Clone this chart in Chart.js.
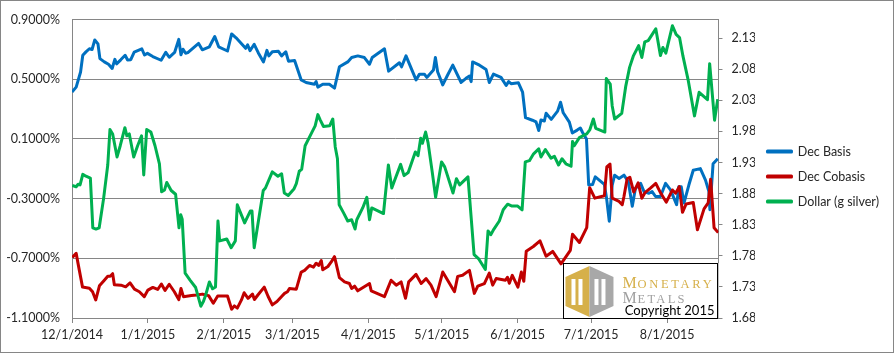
<!DOCTYPE html>
<html lang="en">
<head>
<meta charset="UTF-8">
<title>Dec Basis, Dec Cobasis and Dollar (g silver)</title>
<script src="https://cdn.jsdelivr.net/npm/chart.js"></script>
<style>
    body { margin: 0; background: #fff; }
    canvas { display: block; }
</style>
</head>
<body>
<canvas id="grafico" width="894" height="353"></canvas>
<script>
// days are counted from 12/1/2014
var monthDays = [0, 31, 62, 90, 121, 151, 182, 212, 243];
var monthLabels = ['12/1/2014', '1/1/2015', '2/1/2015', '3/1/2015', '4/1/2015', '5/1/2015', '6/1/2015', '7/1/2015', '8/1/2015'];
var leftTicks = [-1.1, -0.7, -0.3, 0.1, 0.5, 0.9];
var rightTicks = [1.68, 1.73, 1.78, 1.83, 1.88, 1.93, 1.98, 2.03, 2.08, 2.13];

var basisDays = [0,1.7,3.5,4.4,5.7,7.1,8.2,9.3,10.6,11.4,13.2,14.9,16.4,17.5,18.2,19.9,21.7,22.7,24.0,25.4,28.5,29.6,30.8,33.0,36.4,38.3,39.7,41.9,43.6,44.5,45.3,46.4,47.3,51.7,53.2,56.1,58.3,59.9,63.5,65.2,67.0,70.9,71.7,72.7,74.4,76.1,78.2,79.6,80.4,81.8,84.3,85.6,87.3,88.4,90.9,93.6,95.6,99.0,99.7,100.4,102.4,105.1,107.2,109.2,112.6,114.2,116.7,119.4,121.5,122.6,127.6,129.3,133.7,134.6,136.4,140.5,141.9,143.9,144.9,147.6,148.4,149.3,151.4,153.4,155.5,158.9,160.9,162.3,163.0,163.6,166.4,169.1,170.4,172.1,175.2,177.3,178.3,179.3,182.3,184.0,185.2,188.0,189.5,190.6,191.5,192.9,193.6,195.7,198.3,199.5,200.6,203.1,204.3,206.3,207.6,208.5,210.1,211.0,212.6,213.7,215.3,217.4,218.3,219.4,220.6,221.6,223.4,225.4,227.2,228.8,230.1,232.2,233.6,235.6,236.9,238.3,240.3,242.4,244.4,245.8,246.9,247.8,248.8,249.9,251.9,253.7,256.6,258.7,260.1,260.5,261.8,263.7];
var basisValues = [0.414,0.447,0.548,0.660,0.683,0.704,0.699,0.763,0.737,0.638,0.616,0.600,0.572,0.633,0.603,0.630,0.660,0.629,0.631,0.682,0.704,0.662,0.673,0.652,0.627,0.680,0.647,0.679,0.767,0.664,0.701,0.674,0.678,0.740,0.697,0.717,0.786,0.717,0.689,0.803,0.777,0.707,0.730,0.691,0.734,0.676,0.616,0.693,0.656,0.684,0.687,0.656,0.684,0.621,0.625,0.495,0.478,0.466,0.484,0.447,0.466,0.466,0.440,0.583,0.616,0.645,0.656,0.645,0.600,0.645,0.704,0.554,0.610,0.583,0.656,0.495,0.534,0.534,0.512,0.561,0.645,0.550,0.462,0.528,0.594,0.478,0.506,0.521,0.484,0.616,0.594,0.565,0.478,0.534,0.512,0.458,0.484,0.470,0.476,0.414,0.242,0.225,0.214,0.156,0.227,0.220,0.272,0.231,0.286,0.346,0.275,0.212,0.140,0.159,0.173,0.143,0.099,-0.209,-0.205,-0.154,-0.176,-0.205,-0.297,-0.451,-0.209,-0.143,-0.165,-0.143,-0.187,-0.352,-0.231,-0.198,-0.253,-0.264,-0.253,-0.286,-0.286,-0.198,-0.242,-0.297,-0.341,-0.220,-0.220,-0.330,-0.209,-0.110,-0.099,-0.176,-0.253,-0.374,-0.066,-0.033];

var cobasisDays = [0.1,1.7,3.0,4.3,7.1,8.4,9.7,11.2,13.2,14.6,15.6,16.6,17.3,20.0,21.9,23.7,25.5,27.5,29.5,31.0,33.0,35.0,36.5,38.0,39.7,41.8,43.6,44.5,45.5,48.8,50.8,53.3,54.6,55.8,57.7,59.5,63.5,65.2,66.3,67.5,69.2,70.3,71.9,73.7,74.5,75.9,78.5,80.1,81.8,83.7,85.6,86.8,88.0,88.8,91.6,93.6,95.0,97.0,98.6,99.7,100.7,101.8,102.4,104.5,105.8,107.2,109.2,111.3,113.3,114.2,115.4,116.7,121.5,122.2,127.6,130.3,132.4,134.4,136.2,137.5,140.5,142.6,144.6,146.6,148.7,151.4,153.4,156.2,157.5,159.5,162.3,164.3,165.7,168.4,170.4,171.8,173.2,177.0,177.8,178.6,179.8,182.1,183.5,184.5,185.5,188.4,191.1,193.6,196.3,199.7,203.5,204.4,207.2,210.2,211.4,213.5,217.4,218.4,219.7,220.6,223.4,224.7,225.4,226.7,227.8,229.4,231.2,232.7,234.1,236.1,238.4,240.4,242.7,245.2,246.5,248.0,249.3,250.8,253.7,255.4,258.1,259.8,260.8,262.2,263.9];
var cobasisValues = [-0.694,-0.667,-0.781,-0.893,-0.900,-0.924,-0.979,-0.884,-0.847,-0.820,-0.821,-0.803,-0.877,-0.880,-0.891,-0.865,-0.907,-0.924,-0.957,-0.913,-0.895,-0.909,-0.872,-0.915,-0.874,-0.924,-0.977,-0.902,-0.957,-0.950,-0.946,-0.940,-0.946,-0.950,-1.001,-0.953,-0.953,-1.041,-1.019,-1.034,-0.979,-0.931,-0.968,-0.940,-0.976,-0.946,-0.893,-0.956,-1.012,-0.990,-0.956,-0.935,-0.924,-0.902,-0.907,-0.792,-0.781,-0.748,-0.759,-0.733,-0.748,-0.715,-0.777,-0.755,-0.726,-0.689,-0.829,-0.858,-0.869,-0.902,-0.887,-0.918,-0.869,-0.918,-0.957,-0.847,-0.880,-0.858,-0.968,-0.858,-0.808,-0.869,-0.836,-0.880,-0.957,-0.792,-0.847,-0.924,-0.821,-0.814,-0.781,-0.935,-0.887,-0.869,-0.799,-0.880,-0.836,-0.847,-0.827,-0.867,-0.814,-0.893,-0.792,-0.854,-0.652,-0.621,-0.583,-0.686,-0.654,-0.737,-0.647,-0.539,-0.594,-0.494,-0.227,-0.297,-0.281,-0.088,-0.068,-0.297,-0.319,-0.341,-0.286,-0.167,-0.157,-0.256,-0.194,-0.297,-0.258,-0.231,-0.198,-0.263,-0.324,-0.242,-0.264,-0.220,-0.392,-0.336,-0.326,-0.509,-0.369,-0.329,-0.171,-0.495,-0.528];

var dollarDays = [0.1,1.7,2.5,3.3,4.4,5.7,7.5,8.5,9.8,11.1,12.9,14.6,15.5,16.6,18.4,19.7,21.6,22.4,23.4,25.2,26.8,28.4,29.3,30.5,32.2,33.9,35.7,36.6,37.8,38.7,40.5,42.3,43.7,44.4,45.0,46.2,48.2,50.5,52.6,53.7,54.6,56.1,57.4,58.6,59.6,60.3,63.2,65.0,66.7,67.5,70.5,72.8,73.5,74.4,78.1,79.0,81.8,84.1,85.6,86.7,88.3,90.7,91.6,92.8,93.8,95.2,97.9,99.3,100.4,101.3,102.7,105.2,106.5,107.5,108.4,109.1,110.9,112.6,114.2,115.6,116.3,118.7,120.4,121.5,122.4,127.2,129.2,130.6,131.8,134.2,135.6,137.3,140.2,141.3,142.4,143.1,144.4,145.4,147.1,148.5,150.9,152.2,155.6,157.0,158.3,161.7,164.2,166.1,168.8,169.9,171.0,172.3,174.5,176.1,177.9,179.7,182.0,183.8,185.1,186.8,188.5,190.6,191.5,193.3,195.6,197.0,198.7,200.1,201.7,203.8,204.4,205.1,207.2,210.2,211.5,212.9,213.9,217.6,218.2,219.8,220.6,221.6,224.5,226.1,227.7,229.2,231.4,232.7,233.9,235.3,238.4,240.3,241.3,242.5,245.2,246.7,248.1,249.5,251.6,254.2,256.1,259.5,260.4,262.4,263.7];
var dollarValues = [1.893,1.891,1.895,1.894,1.911,1.908,1.905,1.825,1.823,1.825,1.872,1.926,1.983,1.976,1.939,1.957,1.986,1.973,1.976,1.939,1.957,1.973,1.910,1.983,1.979,1.957,1.928,1.883,1.886,1.898,1.885,1.879,1.825,1.846,1.839,1.752,1.741,1.729,1.699,1.707,1.717,1.738,1.727,1.730,1.836,1.804,1.807,1.793,1.804,1.862,1.833,1.852,1.852,1.793,1.885,1.889,1.915,1.908,1.912,1.881,1.877,1.888,1.896,1.916,1.919,1.957,1.978,1.989,2.007,1.999,1.988,1.989,2.000,1.955,1.936,1.862,1.849,1.836,1.838,1.823,1.838,1.857,1.874,1.838,1.857,1.848,1.926,1.889,1.902,1.927,1.909,1.914,1.947,1.941,1.969,1.961,1.979,1.962,1.915,1.874,1.931,1.923,1.881,1.904,1.894,1.907,1.782,1.775,1.758,1.820,1.814,1.823,1.836,1.854,1.863,1.860,1.860,1.854,1.931,1.933,1.944,1.952,1.939,1.951,1.937,1.940,1.926,1.936,1.928,1.924,1.964,1.957,1.970,1.976,1.983,2.000,1.985,1.979,2.065,2.056,2.021,2.000,2.009,2.052,2.083,2.101,2.118,2.099,2.124,2.126,2.145,2.102,2.115,2.106,2.150,2.136,2.131,2.101,2.063,2.005,2.043,2.031,2.089,1.998,2.032];

var gris = '#868686';
var texto = '#262626';
var fuente = { family: 'Lato', size: 12.5 };
var oro = '#D6B04A';

function puntos(dias, valores) {
    return dias.map(function (d, i) { return { x: d, y: valores[i] }; });
}

function fijarTicks(lista) {
    return function (escala) {
        escala.ticks = lista.map(function (v) { return { value: v }; });
    };
}

// box with the logo, drawn over the bottom right corner of the plot
function dibujarLogo(c, area) {
    var w = 155, h = 55;
    var x = area.right - w, y = area.bottom - h;
    c.save();
    c.fillStyle = '#fff';
    c.fillRect(x, y, w, h);
    c.strokeStyle = '#000';
    c.lineWidth = 1;
    c.strokeRect(Math.round(x) + 0.5, Math.round(y) + 0.5, w - 1, h);

    // icon
    var ix = x + 2, iy = y + 2;
    c.fillStyle = oro;
    c.beginPath();
    c.moveTo(ix, iy + 12); c.lineTo(ix + 24, iy + 1); c.lineTo(ix + 24, iy + 52); c.lineTo(ix, iy + 41);
    c.closePath(); c.fill();
    c.fillStyle = '#A8A8A8';
    c.beginPath();
    c.moveTo(ix + 24, iy + 1); c.lineTo(ix + 48, iy + 12); c.lineTo(ix + 48, iy + 41); c.lineTo(ix + 24, iy + 52);
    c.closePath(); c.fill();
    c.fillStyle = '#fff';
    [6, 13, 29, 36].forEach(function (dx) {
        c.fillRect(ix + dx, iy + 14, 4, 26);
    });

    // text
    c.textBaseline = 'alphabetic';
    c.fillStyle = oro;
    c.font = '16px "Liberation Serif"';
    c.fillText('M', x + 59, y + 25);
    c.font = '12.5px "Liberation Serif"';
    c.letterSpacing = '2.7px';
    c.fillText('ONETARY', x + 74, y + 25);
    c.fillStyle = '#A0A0A0';
    c.font = '16px "Liberation Serif"';
    c.letterSpacing = '0px';
    c.fillText('M', x + 59, y + 40);
    c.font = '12.5px "Liberation Serif"';
    c.letterSpacing = '2.3px';
    c.fillText('ETALS', x + 74, y + 40);
    c.letterSpacing = '0px';
    c.fillStyle = '#000';
    c.font = '13px Lato';
    c.textAlign = 'right';
    c.fillText('Copyright 2015', x + w - 4, y + 52);
    c.restore();
}

var marco = {
    id: 'marco',
    afterDraw: function (chart) {
        var c = chart.ctx;
        dibujarLogo(c, chart.chartArea);
        c.save();
        c.strokeStyle = gris;
        c.lineWidth = 1;
        c.strokeRect(0.5, 0.5, chart.width - 1, chart.height - 1);
        c.restore();
    }
};

var ctx = document.getElementById('grafico').getContext('2d');
var grafico = new Chart(ctx, {
    type: 'line',
    data: {
        datasets: [{
            label: 'Dec Basis',
            data: puntos(basisDays, basisValues),
            borderColor: '#0070C0',
            backgroundColor: '#0070C0',
            yAxisID: 'y',
            order: 3
        }, {
            label: 'Dec Cobasis',
            data: puntos(cobasisDays, cobasisValues),
            borderColor: '#C00000',
            backgroundColor: '#C00000',
            yAxisID: 'y',
            order: 2
        }, {
            label: 'Dollar (g silver)',
            data: puntos(dollarDays, dollarValues),
            borderColor: '#00B050',
            backgroundColor: '#00B050',
            yAxisID: 'y1',
            order: 1
        }]
    },
    options: {
        responsive: false,
        animation: false,
        devicePixelRatio: 1,
        layout: { padding: { left: 0, right: 5, top: 0, bottom: 0 } },
        elements: {
            point: { radius: 0 },
            line: { borderWidth: 3, tension: 0, borderJoinStyle: 'round', fill: false }
        },
        scales: {
            x: {
                type: 'linear',
                min: 0,
                max: 264,
                afterBuildTicks: fijarTicks(monthDays),
                afterFit: function (s) { s.height = 35; },
                ticks: {
                    autoSkip: false,
                    maxRotation: 0,
                    padding: 4,
                    color: texto,
                    font: fuente,
                    callback: function (v, i) { return monthLabels[i]; }
                },
                grid: { drawOnChartArea: false, drawTicks: true, tickLength: 5, color: gris },
                border: { color: gris }
            },
            y: {
                position: 'left',
                min: -1.1,
                max: 0.9,
                afterBuildTicks: fijarTicks(leftTicks),
                afterFit: function (s) { s.width = 72; },
                ticks: {
                    padding: 12,
                    color: texto,
                    font: fuente,
                    callback: function (v) { return v.toFixed(4) + '%'; }
                },
                grid: { color: gris, drawTicks: false },
                border: { color: gris }
            },
            y1: {
                position: 'right',
                min: 1.68,
                max: 2.16,
                afterBuildTicks: fijarTicks(rightTicks),
                afterFit: function (s) { s.width = 36.5; },
                ticks: {
                    padding: 9,
                    color: texto,
                    font: fuente,
                    callback: function (v) { return v.toFixed(2); }
                },
                grid: { drawOnChartArea: false, drawTicks: true, tickLength: 4, color: gris },
                border: { color: gris }
            }
        },
        plugins: {
            title: { display: true, text: '', padding: 0, font: { size: 12.5 } },
            tooltip: { enabled: false },
            legend: {
                position: 'right',
                labels: {
                    boxWidth: 24,
                    boxHeight: 1,
                    padding: 12.5,
                    color: texto,
                    font: fuente,
                    sort: function (a, b) { return a.datasetIndex - b.datasetIndex; }
                }
            }
        }
    },
    plugins: [marco]
});
</script>
</body>
</html>
